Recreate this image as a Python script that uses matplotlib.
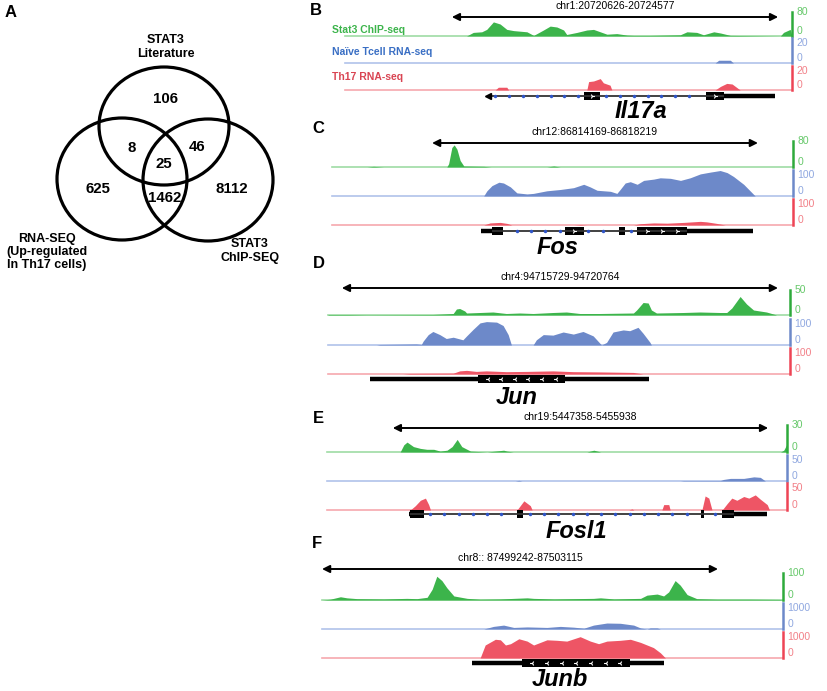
import matplotlib
matplotlib.use('Agg')
import matplotlib.pyplot as plt
from matplotlib.patches import Ellipse, Rectangle
from matplotlib.transforms import blended_transform_factory

plt.rcParams['font.family'] = ['Liberation Sans', 'DejaVu Sans']

# ---------------- Venn data ----------------
venn_sets = ['STAT3\nLiterature', 'RNA-SEQ\n(Up-regulated\nIn Th17 cells)', 'STAT3\nChIP-SEQ']
venn_region_names = ['lit', 'lit_rna', 'lit_chip', 'all', 'rna', 'rna_chip', 'chip']
venn_counts = [106, 8, 46, 25, 625, 1462, 8112]

# ---------------- Track data (x = % of displayed window) ----------------
track_names = ['Stat3 ChIP-seq', 'Naïve Tcell RNA-seq', 'Th17 RNA-seq']
panels = ['B', 'C', 'D', 'E', 'F']
genes = ['Il17a', 'Fos', 'Jun', 'Fosl1', 'Junb']
regions = ['chr1:20720626-20724577', 'chr12:86814169-86818219', 'chr4:94715729-94720764',
           'chr19:5447358-5455938', 'chr8:: 87499242-87503115']
scale_chip = [80, 80, 50, 30, 100]
scale_naive = [20, 100, 100, 50, 1000]
scale_th17 = [20, 100, 100, 50, 1000]
arrow_span = [(23.9, 96.9), (21.7, 92.4), (3.0, 97.4), (14.3, 95.9), (0.0, 85.9)]

# Panel B (Il17a)
B_chip_x = [0, 27.2, 28.7, 30.6, 31.7, 33.2, 34.7, 36.2, 37.7, 40.7, 42.2, 44.4, 45.9, 47.4, 48.9, 49.6,
            51.9, 54.1, 55.6, 57.1, 58.6, 60.8, 63.1, 64.6, 68.3, 75.0, 76.5, 78.7, 80.2, 82.5, 84.0,
            86.2, 97.4, 98.1, 99.6, 100]
B_chip_y = [0, 0, 12, 14, 22, 47, 40, 22, 18, 14, 2, 20, 33, 30, 20, 5,
            12, 20, 22, 14, 6, 8, 3, 2, 2, 4, 14, 12, 4, 14, 10,
            2, 0, 12, 22, 0]
B_naive_x = [0, 82.8, 83.6, 86.2, 86.9, 100]
B_naive_y = [0, 0, 2.2, 2.2, 0, 0]
B_th17_x = [0, 33.6, 34.3, 36.2, 36.6, 54.1, 54.5, 55.6, 57.1, 57.8, 59.3, 59.7,
            82.8, 84.0, 85.4, 86.6, 88.4, 100]
B_th17_y = [0, 0, 2.3, 2.3, 0, 0, 7, 7.5, 9.5, 6, 4, 0,
            0, 3, 5.5, 5, 0, 0]

# Panel C (Fos)
C_chip_x = [0, 7.6, 9.0, 11.2, 24.9, 25.3, 26.0, 26.5, 27.1, 27.8, 28.6, 32.9, 34.5, 46.6, 48.1, 49.5, 100]
C_chip_y = [0, 0, 2, 0, 0, 10, 60, 68, 55, 20, 3, 2, 0, 0, 3, 0, 0]
C_naive_x = [0, 32.9, 33.6, 34.7, 36.2, 37.2, 38.7, 40.1, 42.3, 43.7, 46.6, 49.5, 52.4, 54.6, 56.0,
             57.5, 60.4, 61.8, 62.5, 63.6, 64.7, 66.2, 67.6, 69.8, 71.2, 73.4, 75.6, 77.7, 79.9,
             82.1, 84.2, 85.7, 87.1, 89.3, 91.8, 100]
C_naive_y = [0, 0, 20, 40, 53, 50, 35, 12, 8, 10, 20, 25, 32, 45, 35,
             22, 18, 10, 25, 50, 55, 45, 60, 65, 70, 68, 60, 70, 85,
             92, 98, 90, 75, 45, 0, 0]
C_th17_x = [0, 32.9, 34.3, 36.5, 38.0, 39.0, 52.4, 53.9, 55.3, 65.4, 66.9, 69.8, 72.7, 76.3,
            79.9, 81.3, 83.5, 85.3, 100]
C_th17_y = [0, 0, 8, 10, 6, 0, 0, 2, 0, 0, 5, 8, 7, 10,
            14, 12, 6, 0, 0]

# Panel D (Jun)
D_chip_x = [0, 4.7, 8.3, 22.7, 27.1, 27.8, 28.5, 29.6, 30.0, 32.9, 35.7, 38.6, 41.5, 44.4, 48.7,
            51.6, 54.5, 58.8, 66.1, 66.8, 68.2, 69.3, 70.0, 71.1, 76.9, 80.5, 84.8, 86.3, 87.4,
            89.2, 90.6, 92.1, 94.9, 96.4, 97.1, 100]
D_chip_y = [1, 1, 0.5, 1, 3, 12, 13, 8, 4, 5, 6, 3, 4, 3, 5,
            6, 3, 3, 4, 10, 25, 24, 10, 4, 5, 6, 5, 5, 14,
            37, 22, 10, 6, 2, 0, 0]
D_naive_x = [0, 10.5, 11.2, 19.1, 20.2, 20.6, 21.7, 22.7, 24.2, 25.6, 27.1, 29.2, 30.0, 31.4,
             32.9, 34.3, 36.5, 37.9, 39.0, 39.7, 44.4, 45.1, 46.6, 48.7, 50.9, 53.1, 55.2,
             57.4, 59.2, 60.3, 61.7, 63.9, 65.3, 67.1, 68.2, 69.7, 70.0, 100]
D_naive_y = [0, 0, 2, 4, 2, 15, 40, 52, 40, 25, 30, 20, 35, 60,
             85, 90, 88, 75, 40, 0, 0, 20, 40, 38, 50, 42, 52,
             35, 0, 10, 50, 58, 55, 68, 45, 10, 0, 0]
D_th17_x = [0, 16.2, 17.7, 27.1, 28.5, 30.0, 32.1, 34.3, 38.6, 43.0, 48.7, 53.1, 58.8, 66.1,
            67.5, 68.2, 100]
D_th17_y = [0, 0, 2, 3, 12, 14, 10, 12, 9, 10, 12, 9, 8, 6,
            2, 0, 0]

# Panel E (Fosl1)
E_chip_x = [0, 15.9, 16.7, 17.4, 18.8, 20.3, 21.7, 23.2, 24.6, 26.1, 27.2, 28.3, 29.3, 31.2,
            34.8, 38.4, 39.1, 40.5, 56.5, 58.0, 59.5, 98.6, 99.3, 99.9, 100]
E_chip_y = [0, 0, 8, 11, 6, 4, 3, 3, 1, 2, 6, 14, 6, 1,
            0, 2, 1, 0, 0, 2, 0, 0, 2, 8, 0]
E_naive_x = [0, 40.9, 41.7, 42.4, 76.8, 77.5, 85.5, 86.2, 87.7, 90.6, 92.8, 94.2, 95.3, 100]
E_naive_y = [0, 0, 1.3, 0, 0, 0.7, 0.8, 3, 5, 5, 8, 7, 0, 0]
E_th17_x = [0, 18.1, 19.2, 20.3, 21.4, 22.1, 22.5, 41.3, 42.8, 44.2, 44.6, 65.6, 66.3, 66.7,
            72.8, 73.2, 74.3, 74.6, 81.5, 82.2, 83.0, 83.7, 85.9, 87.0, 88.0, 89.1, 90.6,
            91.7, 93.1, 94.2, 95.7, 96.2, 100]
E_th17_y = [0, 0, 8, 18, 22, 10, 0, 0, 17, 8, 0, 0, 2, 0,
            0, 10, 10, 0, 0, 26, 22, 0, 0, 12, 22, 18, 25,
            22, 28, 20, 10, 0, 0]

# Panel F (Junb)
F_chip_x = [0, 1.8, 4.0, 5.4, 7.6, 13.4, 18.4, 20.6, 22.8, 23.9, 24.9, 26.0, 27.1, 28.6, 31.5,
            34.3, 38.7, 44.5, 45.9, 50.3, 58.9, 60.4, 63.3, 69.1, 70.5, 72.7, 74.1, 75.2,
            76.6, 77.7, 79.2, 81.3, 85.7, 92.9, 99.4, 100]
F_chip_y = [0, 3, 12, 8, 5, 4, 6, 5, 10, 40, 88, 72, 45, 15, 6,
            3, 4, 8, 6, 4, 6, 8, 4, 6, 18, 22, 15, 30,
            72, 55, 20, 5, 3, 3, 2, 0]
F_naive_x = [0, 35.1, 37.2, 39.4, 41.6, 44.5, 48.8, 51.7, 54.6, 56.8, 58.9, 61.8, 64.7, 67.6,
             69.1, 70.5, 71.2, 72.7, 73.4, 100]
F_naive_y = [0, 0, 100, 150, 60, 80, 60, 100, 70, 30, 150, 230, 220, 150,
             40, 0, 40, 40, 0, 0]
F_th17_x = [0, 34.3, 35.4, 37.6, 38.7, 39.8, 40.9, 42.7, 44.5, 45.9, 48.8, 51.0, 53.1, 56.0,
            58.2, 60.0, 61.8, 64.7, 66.9, 69.1, 71.9, 73.4, 74.5, 100]
F_th17_y = [0, 0, 500, 720, 700, 500, 550, 740, 650, 500, 700, 680, 650, 820,
            650, 550, 650, 680, 720, 600, 400, 200, 0, 0]

# Gene models: span, thick (UTR/CDS) segments, exon boxes, strand
gene_span = [(32.1, 96.3), (32.4, 91.3), (9.0, 69.5), (17.8, 95.7), (32.5, 74.1)]
gene_thick = [[(84.7, 96.3)], [(32.4, 34.7), (77.0, 91.3)], [(9.0, 69.5)],
              [(17.8, 18.1), (88.4, 95.7)], [(32.5, 74.1)]]
gene_exons = [[(53.4, 57.1), (80.8, 84.7)],
              [(34.7, 37.2), (50.6, 54.6), (62.2, 63.6), (66.2, 77.0)],
              [(32.5, 51.3)],
              [(18.1, 21.0), (41.2, 42.6), (81.2, 82.0), (85.9, 88.4)],
              [(43.4, 66.9)]]
gene_strand = ['+', '+', '-', '+', '-']
gene_intron_dots = [True, True, False, True, False]

# ---------------- Layout (pixels) ----------------
W, H = 827, 691
fig = plt.figure(figsize=(8.27, 6.91), dpi=100)


def box(x0, y0, x1, y1):
    return [x0 / W, 1 - y1 / H, (x1 - x0) / W, (y1 - y0) / H]


ov = fig.add_axes([0, 0, 1, 1])
ov.set_xlim(0, W)
ov.set_ylim(H, 0)
ov.axis('off')

# Venn
ell = [((164, 126), 130, 118), ((122, 179), 130, 122), ((208, 180), 130, 122)]
for (c, w, h) in ell:
    ov.add_patch(Ellipse(c, w, h, fill=False, lw=2.3, ec='black'))
venn_pos = [(166, 99), (132, 148), (197, 147), (164, 164), (98, 189), (165, 198), (232, 189)]
for (x, y), n in zip(venn_pos, venn_counts):
    ov.text(x, y, str(n), ha='center', va='center', fontsize=10.8, fontweight='bold')
ov.text(166, 47, venn_sets[0], ha='center', va='center', fontsize=9, fontweight='bold', linespacing=1.15)
ov.text(47, 252, venn_sets[1], ha='center', va='center', fontsize=9, fontweight='bold', linespacing=1.15)
ov.text(250, 251, venn_sets[2], ha='center', va='center', fontsize=9, fontweight='bold', linespacing=1.15)
ov.text(5, 12, 'A', ha='left', va='center', fontsize=12, fontweight='bold')

# Track layouts: left, bar, [(top, base) x3], gene_y, arrow_y, letter (x, y), gene name (x, y)
layout = [
    dict(left=345, bar=792, tr=[(12, 36), (38, 63), (66, 90)], gy=96, ay=17, lab=(310, 10), gn=(641, 111)),
    dict(left=332, bar=793, tr=[(141, 167), (170, 196), (199, 225)], gy=231, ay=143, lab=(312, 128), gn=(558, 247)),
    dict(left=328, bar=790, tr=[(290, 315), (319, 345), (348, 374)], gy=379, ay=288, lab=(313, 263), gn=(517, 397)),
    dict(left=327, bar=787, tr=[(425, 452), (455, 481), (483, 510)], gy=514, ay=428, lab=(313, 418), gn=(576, 532)),
    dict(left=322, bar=783, tr=[(573, 600), (603, 629), (632, 658)], gy=663, ay=569, lab=(312, 543), gn=(560, 680)),
]

fill_c = ['#3cb44b', '#6d89c9', '#ee5565']
bar_c = ['#2eaa3c', '#6d89c9', '#ee4455']
lab_c = ['#66c86a', '#90a8e0', '#f28088']
base_c = ['#9edca4', '#b0c2ea', '#f6a8ae']

all_x = [[B_chip_x, B_naive_x, B_th17_x], [C_chip_x, C_naive_x, C_th17_x], [D_chip_x, D_naive_x, D_th17_x],
         [E_chip_x, E_naive_x, E_th17_x], [F_chip_x, F_naive_x, F_th17_x]]
all_y = [[B_chip_y, B_naive_y, B_th17_y], [C_chip_y, C_naive_y, C_th17_y], [D_chip_y, D_naive_y, D_th17_y],
         [E_chip_y, E_naive_y, E_th17_y], [F_chip_y, F_naive_y, F_th17_y]]
scales = list(zip(scale_chip, scale_naive, scale_th17))

for p in range(5):
    L = layout[p]
    axes = []
    for t in range(3):
        top, base = L['tr'][t]
        ax = fig.add_axes(box(L['left'], top, L['bar'], base))
        ax.patch.set_alpha(0)
        ax.set_xlim(0, 100)
        ax.set_ylim(0, scales[p][t])
        ax.fill_between(all_x[p][t], 0, all_y[p][t], color=fill_c[t], lw=0, clip_on=False)
        ax.axhline(0, color=base_c[t], lw=1.2, zorder=0, clip_on=False)
        for s in ['top', 'left', 'bottom']:
            ax.spines[s].set_visible(False)
        ax.spines['right'].set_color(bar_c[t])
        ax.spines['right'].set_linewidth(1.8)
        ax.set_xticks([])
        ax.yaxis.tick_right()
        ax.set_yticks([0, scales[p][t]])
        ax.set_yticklabels(['0', str(scales[p][t])])
        ax.tick_params(axis='y', length=0, pad=3, labelsize=7.5, labelcolor=lab_c[t])
        lbls = ax.get_yticklabels()
        lbls[0].set_va('bottom')
        lbls[1].set_va('center' if t == 0 else 'top')
        axes.append(ax)
    # region arrow
    a0, a1 = arrow_span[p]
    tr = blended_transform_factory(axes[0].transData, ov.transData)
    ov.annotate('', xy=(a0, L['ay']), xytext=(a1, L['ay']), xycoords=tr, textcoords=tr,
                arrowprops=dict(arrowstyle='<|-|>', color='black', lw=1.4, mutation_scale=11,
                                shrinkA=0, shrinkB=0))
    ov.text((a0 + a1) / 2, L['ay'] - 6, regions[p], transform=tr, ha='center', va='bottom',
            fontsize=7.5, color='black')
    ov.text(L['lab'][0], L['lab'][1], panels[p], ha='left', va='center', fontsize=12, fontweight='bold')
    ov.text(L['gn'][0], L['gn'][1], genes[p], ha='center', va='center', fontsize=17,
            fontweight='bold', style='italic')
    # gene model
    gax = fig.add_axes(box(L['left'], L['gy'] - 5, L['bar'], L['gy'] + 5))
    gax.set_xlim(0, 100)
    gax.set_ylim(-1, 1)
    gax.axis('off')
    g0, g1 = gene_span[p]
    gax.plot([g0, g1], [0, 0], color='#333333', lw=1.3, solid_capstyle='butt')
    for (s0, s1) in gene_thick[p]:
        gax.plot([s0, s1], [0, 0], color='black', lw=3.2, solid_capstyle='butt')
    for (e0, e1) in gene_exons[p]:
        gax.add_patch(Rectangle((e0, -0.8), e1 - e0, 1.6, color='black', lw=0))
        n = int((e1 - e0) // 3)
        for k in range(n):
            xm = e0 + (k + 0.7) * (e1 - e0) / (n + 0.4)
            gax.plot(xm, 0, marker='4' if gene_strand[p] == '+' else '3', color='white', ms=3.5, mew=0.8)
    if gene_intron_dots[p]:
        xs = []
        x = g0 + 1.5
        while x < g1 - 1:
            inside = any(e0 - 0.8 <= x <= e1 + 0.8 for e0, e1 in gene_exons[p]) or \
                any(s0 - 0.8 <= x <= s1 + 0.8 for s0, s1 in gene_thick[p])
            if not inside:
                xs.append(x)
            x += 3.1
        gax.plot(xs, [0] * len(xs), ls='none', marker='o', ms=2.5, color='#2f55c8', mew=0, zorder=5)
    if p == 0:
        gax.plot(g0, 0, marker='<', color='black', ms=4)

# Track names in panel B
names_y = [30, 52, 77]
for t in range(3):
    ov.text(332, names_y[t], track_names[t], ha='left', va='center', fontsize=7.5,
            fontweight='bold', color=['#3cb44b', '#3a6fc4', '#d94452'][t])

fig.savefig('out.png', dpi=100)
